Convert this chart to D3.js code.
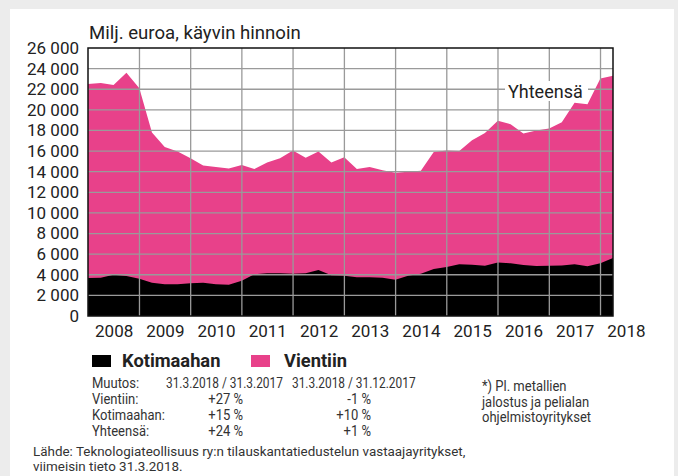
<!DOCTYPE html>
<html>
<head>
<meta charset="utf-8">
<script src="https://cdn.jsdelivr.net/npm/d3@7"></script>
<style>
  body { margin: 0; background: #ececec; }
  svg { display: block; }
</style>
</head>
<body>
<svg id="tilauskanta" width="678" height="476"></svg>
<script>
// neljännesvuosien päättymispäivät
var paivat = ["31.12.2007", "31.3.2008", "30.6.2008", "30.9.2008", "31.12.2008",
  "31.3.2009", "30.6.2009", "30.9.2009", "31.12.2009",
  "31.3.2010", "30.6.2010", "30.9.2010", "31.12.2010",
  "31.3.2011", "30.6.2011", "30.9.2011", "31.12.2011",
  "31.3.2012", "30.6.2012", "30.9.2012", "31.12.2012",
  "31.3.2013", "30.6.2013", "30.9.2013", "31.12.2013",
  "31.3.2014", "30.6.2014", "30.9.2014", "31.12.2014",
  "31.3.2015", "30.6.2015", "30.9.2015", "31.12.2015",
  "31.3.2016", "30.6.2016", "30.9.2016", "31.12.2016",
  "31.3.2017", "30.6.2017", "30.9.2017", "31.12.2017",
  "31.3.2018"];

var yhteensa = [22500, 22600, 22400, 23600, 22100, 17800, 16400, 15950, 15300, 14600,
  14450, 14300, 14650, 14250, 14900, 15300, 16050, 15350, 15950, 14900,
  15400, 14250, 14450, 14150, 13900, 14000, 14100, 15900, 16050, 16000,
  17050, 17750, 18950, 18600, 17700, 18000, 18200, 18800, 20700, 20550,
  23050, 23300];

var kotimaahan = [3690, 3720, 4000, 3880, 3620, 3230, 3070, 3070, 3170, 3230,
  3070, 3040, 3430, 4040, 4140, 4140, 4100, 4140, 4460, 3950,
  3910, 3750, 3750, 3720, 3520, 3910, 4100, 4560, 4750, 5010,
  4980, 4880, 5200, 5110, 4950, 4850, 4880, 4910, 5010, 4820,
  5110, 5630];

var yTicks = [0, 2000, 4000, 6000, 8000, 10000, 12000, 14000, 16000, 18000, 20000, 22000, 24000, 26000];
var vuodet = [2008, 2009, 2010, 2011, 2012, 2013, 2014, 2015, 2016, 2017, 2018];

var sarjat = ["Kotimaahan", "Vientiin"];
var muutosOtsikot = ["Muutos:", "31.3.2018 / 31.3.2017", "31.3.2018 / 31.12.2017"];
var muutosRivit = ["Vientiin:", "Kotimaahan:", "Yhteensä:"];
var muutosVuosi = ["+27 %", "+15 %", "+24 %"];
var muutosNeljannes = ["-1 %", "+10 %", "+1 %"];
var alaviite = ["*) Pl. metallien", "jalostus ja pelialan", "ohjelmistoyritykset"];
var lahde = ["Lähde: Teknologiateollisuus ry:n tilauskantatiedustelun vastaajayritykset,", "viimeisin tieto 31.3.2018."];

var pinkki = "#e8418a",
    ruudukko = "#9a9a9a",
    teksti = "#222",
    fontti = "Roboto, 'DejaVu Sans', sans-serif";

var svg = d3.select("svg#tilauskanta"),
    margin = {top: 48, right: 65, bottom: 160, left: 88};
var width = +svg.attr("width") - margin.left - margin.right,
    height = +svg.attr("height") - margin.top - margin.bottom;

var parse = d3.timeParse("%d.%m.%Y");
var data = paivat.map(function(p, i) {
  return {date: parse(p), total: yhteensa[i], koti: kotimaahan[i]};
});

// valkoinen pohja
svg.append("rect")
    .attr("x", 10).attr("y", 9)
    .attr("width", 664).attr("height", 470)
    .attr("fill", "#fff");

var x = d3.scaleTime()
    .domain([data[0].date, data[data.length - 1].date])
    .range([0, width]);

var y = d3.scaleLinear()
    .domain([0, 26000])
    .range([height, 0]);

var g = svg.append("g").attr("transform", "translate(" + margin.left + "," + margin.top + ")");

var areaTotal = d3.area()
    .x(function(d) { return x(d.date); })
    .y0(height)
    .y1(function(d) { return y(d.total); });

var areaKoti = d3.area()
    .x(function(d) { return x(d.date); })
    .y0(height)
    .y1(function(d) { return y(d.koti); });

g.append("path").datum(data).attr("fill", pinkki).attr("d", areaTotal);
g.append("path").datum(data).attr("fill", "#000").attr("d", areaKoti);

// ruudukko
g.append("g")
    .selectAll("line")
    .data(yTicks.slice(1, -1))
    .enter().append("line")
      .attr("x1", 0).attr("x2", width)
      .attr("y1", function(d) { return y(d); })
      .attr("y2", function(d) { return y(d); })
      .attr("stroke", ruudukko)
      .attr("stroke-width", 1.3);

g.append("g")
    .selectAll("line")
    .data(vuodet.slice(1))
    .enter().append("line")
      .attr("x1", function(d) { return x(new Date(d, 0, 1)); })
      .attr("x2", function(d) { return x(new Date(d, 0, 1)); })
      .attr("y1", 0).attr("y2", height)
      .attr("stroke", ruudukko)
      .attr("stroke-width", 1.3);

// kehys
g.append("rect")
    .attr("width", width).attr("height", height)
    .attr("fill", "none")
    .attr("stroke", "#111")
    .attr("stroke-width", 1.5);

var fmt = d3.formatLocale({decimal: ",", thousands: "\u00a0", grouping: [3], currency: ["", " €"]}).format(",d");

var yAxis = g.append("g")
    .call(d3.axisLeft(y).tickValues(yTicks).tickSize(0).tickPadding(9).tickFormat(fmt));
yAxis.select(".domain").remove();
yAxis.selectAll("text")
    .attr("font-family", fontti)
    .attr("font-size", 17)
    .attr("fill", teksti);

var xAxis = g.append("g")
    .attr("transform", "translate(0," + height + ")")
    .call(d3.axisBottom(x)
      .tickValues(vuodet.map(function(v) { return new Date(v, 6, 1); }))
      .tickSize(0).tickPadding(9)
      .tickFormat(d3.timeFormat("%Y")));
xAxis.select(".domain").remove();
xAxis.selectAll("text")
    .attr("font-family", fontti)
    .attr("font-size", 17)
    .attr("fill", teksti);

svg.append("text")
    .attr("x", 89).attr("y", 39)
    .attr("font-family", fontti)
    .attr("font-size", 18.6)
    .attr("fill", teksti)
    .text("Milj. euroa, käyvin hinnoin");

// Yhteensä-merkintä
svg.append("rect")
    .attr("x", 505).attr("y", 81)
    .attr("width", 83).attr("height", 20)
    .attr("fill", "#fff");
svg.append("text")
    .attr("x", 508).attr("y", 97.5)
    .attr("font-family", fontti)
    .attr("font-size", 18)
    .attr("fill", teksti)
    .text("Yhteensä");

// selite
var legend = svg.append("g")
    .selectAll("g")
    .data(sarjat)
    .enter().append("g")
      .attr("transform", function(d, i) { return "translate(" + (92 + i * 159) + ",355)"; });

legend.append("rect")
    .attr("width", 19)
    .attr("height", 12)
    .attr("fill", function(d, i) { return i === 0 ? "#000" : pinkki; });

legend.append("text")
    .attr("x", function(d, i) { return i === 0 ? 30 : 33; })
    .attr("y", 12)
    .attr("font-family", fontti)
    .attr("font-size", 18.3)
    .attr("font-weight", "bold")
    .attr("fill", teksti)
    .text(function(d) { return d; });

// muutostaulukko, kapeaa tekstiä
var taulu = svg.append("g")
    .attr("font-family", fontti)
    .attr("font-size", 14)
    .attr("fill", "#333");

function kapea(tx, ty, str, anchor, sx) {
  return taulu.append("g")
      .attr("transform", "translate(" + tx + "," + ty + ") scale(" + (sx || 0.93) + ",1)")
    .append("text")
      .attr("text-anchor", anchor || "start")
      .text(str);
}

kapea(92, 388, muutosOtsikot[0]);
kapea(166, 388, muutosOtsikot[1], "start", 0.85);
kapea(292, 388, muutosOtsikot[2], "start", 0.85);

muutosRivit.forEach(function(r, i) {
  var yy = 404 + i * 16;
  kapea(92, yy, r);
  kapea(243, yy, muutosVuosi[i], "end");
  kapea(371, yy, muutosNeljannes[i], "end");
});

alaviite.forEach(function(r, i) {
  kapea(482, 391 + i * 15.5, r);
});

lahde.forEach(function(r, i) {
  kapea(33, 456 + i * 15, r, "start", 0.995).attr("font-size", 13.5);
});
</script>
</body>
</html>
